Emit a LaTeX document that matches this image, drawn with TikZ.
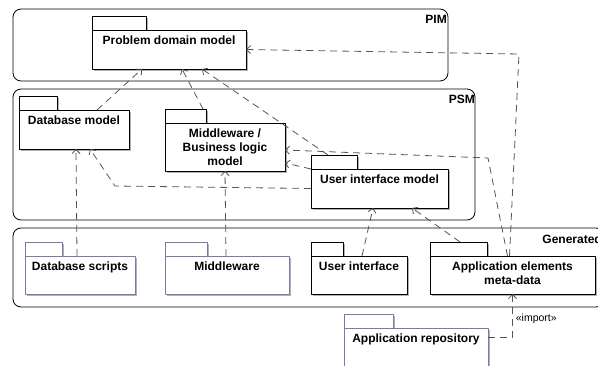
\documentclass[tikz,border=0pt]{standalone}
\usepackage{fontspec}
\setmainfont{Liberation Sans}
\usetikzlibrary{arrows.meta,shadows}
\definecolor{genblue}{RGB}{118,124,168}
\definecolor{depgray}{RGB}{85,85,85}
\begin{document}
\begin{tikzpicture}[x=1pt,y=-1pt,line join=round,
	frame/.style={draw=black,line width=0.8pt,rounded corners=8pt,inner sep=0pt,outer sep=0pt,anchor=north west},
	frametitle/.style={font=\fontsize{12}{14}\selectfont\bfseries,inner sep=0pt,anchor=north east},
	pkg/.style={draw=#1,fill=white,line width=0.9pt,inner sep=0pt,outer sep=0pt,anchor=north west,
		drop shadow={shadow xshift=2pt,shadow yshift=-2pt,fill=black!30,opacity=1}},
	pkg/.default=black,
	pkgtab/.style={pkg=#1,minimum height=14pt,anchor=south west},
	pkgtab/.default=black,
	pkgtext/.style={anchor=north,align=center,inner sep=6pt,font=\fontsize{12}{14}\selectfont\bfseries},
	dep/.style={draw=depgray,line width=0.8pt,dash pattern=on 7pt off 5pt,-{Straight Barb[length=4pt,width=8pt]}},
	importlbl/.style={right,inner sep=3pt,font=\fontsize{10.5}{12}\selectfont}]
	\useasboundingbox (0,0) rectangle (598,366);
	\clip (0,0) rectangle (598,366);
	% frames
	\node[frame,minimum width=435pt,minimum height=72pt] (pim) at (13,9) {};
	\node[frame,minimum width=462pt,minimum height=131pt] (psm) at (13,89) {};
	\node[frame,minimum width=591pt,minimum height=79pt] (gen) at (13,228) {};
	\node[frametitle] (pimlbl) at ([shift={(-1pt,-6pt)}]pim.north east) {PIM};
	\node[frametitle] (psmlbl) at ([shift={(0pt,-6pt)}]psm.north east) {PSM};
	\node[frametitle] (genlbl) at ([shift={(-2pt,-7pt)}]gen.north east) {Generated};
	% PIM
	\node[pkgtab,minimum width=54pt] (pdmtab) at (92,30) {};
	\node[pkg,minimum width=154pt,minimum height=39pt,label={[pkgtext]north:{Problem domain model}}] (pdm) at (pdmtab.south west) {};
	% PSM
	\node[pkgtab,minimum width=38pt] (dbmtab) at (19,110) {};
	\node[pkg,minimum width=110pt,minimum height=39pt,label={[pkgtext]north:{Database model}}] (dbm) at (dbmtab.south west) {};
	\node[pkgtab,minimum width=41pt] (blmtab) at (165,123) {};
	\node[pkg,minimum width=120pt,minimum height=48pt,label={[pkgtext]north:{Middleware /\\Business logic\\model}}] (blm) at (blmtab.south west) {};
	\node[pkgtab,minimum width=46pt] (uimtab) at (311,169) {};
	\node[pkg,minimum width=137pt,minimum height=39pt,label={[pkgtext]north:{User interface model}}] (uim) at (uimtab.south west) {};
	% Generated
	\node[pkgtab=genblue,minimum width=37pt] (dbstab) at (25,256) {};
	\node[pkg=genblue,minimum width=110pt,minimum height=38pt,label={[pkgtext]north:{Database scripts}}] (dbs) at (dbstab.south west) {};
	\node[pkgtab=genblue,minimum width=42pt] (mwtab) at (165,256) {};
	\node[pkg=genblue,minimum width=124pt,minimum height=38pt,label={[pkgtext]north:{Middleware}}] (mw) at (mwtab.south west) {};
	\node[pkgtab,minimum width=32pt] (uitab) at (311,256) {};
	\node[pkg,minimum width=96pt,minimum height=38pt,label={[pkgtext]north:{User interface}}] (ui) at (uitab.south west) {};
	\node[pkgtab,minimum width=57pt] (aemtab) at (430,256) {};
	\node[pkg,minimum width=165pt,minimum height=38pt,label={[pkgtext]north:{Application elements\\meta-data}}] (aem) at (aemtab.south west) {};
	% repository
	\node[pkgtab=genblue,minimum width=49pt] (artab) at (344,328) {};
	\node[pkg=genblue,minimum width=144pt,minimum height=39pt,label={[pkgtext]north:{Application repository}}] (ar) at (artab.south west) {};
	% bends
	\coordinate (pimbend) at (519,54);
	\coordinate (psmbend) at (488,158);
	\coordinate (dbmbend) at (115,186);
	% dependencies
	\draw[dep] ([xshift=23pt]dbm.north) -- ([xshift=-27pt]pdm.south);
	\draw[dep] ([xshift=17.5pt]blmtab.north) -- ([xshift=13pt]pdm.south);
	\draw[dep] ([xshift=-6pt]uimtab.north) -- ([xshift=33pt]pdm.south);
	\draw[dep] ([xshift=-3pt]aem.north) -- (pimbend) -- (pdm.east);
	\draw[dep] ([xshift=-5pt]aem.north) -- (psmbend) -- ([yshift=-3pt]blm.east);
	\draw[dep] (uim.north west) -- ([yshift=-16pt]blm.east);
	\draw[dep] (uim.west) -- (dbmbend) -- ([xshift=16pt]dbm.south);
	\draw[dep] ([xshift=-3pt]dbs.north) -- ([xshift=2pt]dbm.south);
	\draw[dep] ([xshift=-1pt]mw.north) -- (blm.south);
	\draw[dep] ([xshift=3pt]ui.north) -- ([xshift=-6.5pt]uim.south);
	\draw[dep] ([xshift=1.5pt]aemtab.north) -- ([xshift=32.5pt]uim.south);
	\draw[dep] ([yshift=10pt]ar.east) -| node[importlbl,pos=0.72] (imp) {«import»} (aem.south);
\end{tikzpicture}
\end{document}
